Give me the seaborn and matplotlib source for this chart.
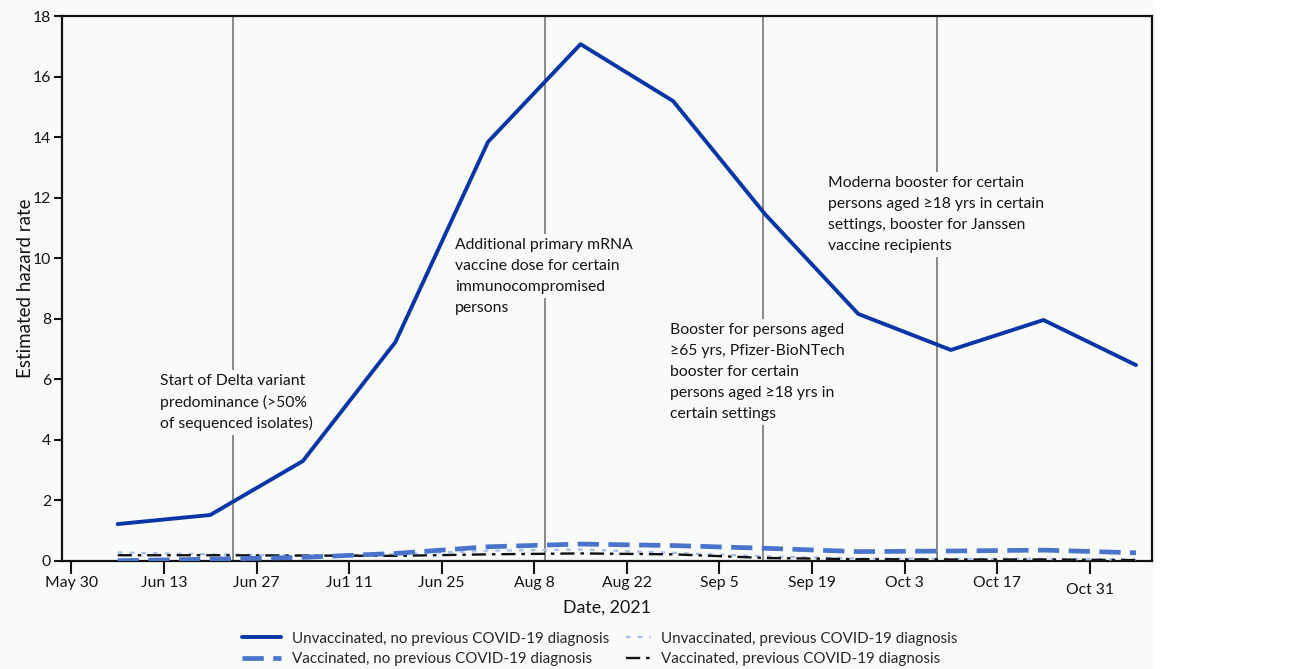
import matplotlib
matplotlib.use("Agg")
from matplotlib import pyplot as plt
from matplotlib.patches import Rectangle
from matplotlib.lines import Line2D
from matplotlib.transforms import ScaledTranslation
import seaborn as sns
import pandas as pd

# valores (cada 14 dias desde el 6 de junio)
fechas = pd.date_range("2021-06-06", periods=12, freq="14D")
no_vac_sin_previo = [1.22, 1.52, 3.30, 7.23, 13.84, 17.07, 15.19, 11.43, 8.16, 6.97, 7.96, 6.47]
vac_sin_previo = [0.01, 0.06, 0.12, 0.25, 0.47, 0.56, 0.51, 0.42, 0.31, 0.33, 0.36, 0.27]
no_vac_previo = [0.28, 0.22, 0.18, 0.22, 0.34, 0.38, 0.27, 0.15, 0.08, 0.07, 0.07, 0.05]
vac_previo = [0.19, 0.19, 0.18, 0.17, 0.22, 0.25, 0.22, 0.10, 0.06, 0.05, 0.05, 0.03]

etiquetas_series = [
    "Unvaccinated, no previous COVID-19 diagnosis",
    "Vaccinated, no previous COVID-19 diagnosis",
    "Unvaccinated, previous COVID-19 diagnosis",
    "Vaccinated, previous COVID-19 diagnosis",
]

fechas_ticks = pd.date_range("2021-05-30", periods=12, freq="14D")
etiquetas_ticks = ["May 30", "Jun 13", "Jun 27", "Ju1 11", "Jun 25", "Aug 8", "Aug 22",
                   "Sep 5", "Sep 19", "Oct 3", "Oct 17", "Oct 31"]

eventos = ["2021-06-23 10:00", "2021-08-09 14:00", "2021-09-11 14:00", "2021-10-07 22:00"]
notas = [
    ("2021-06-12 10:00", 5.94, ["Start of Delta variant", "predominance (>50%", "of sequenced isolates)"]),
    ("2021-07-27 00:00", 10.44, ["Additional primary mRNA", "vaccine dose for certain",
                                 "immunocompromised", "persons"]),
    ("2021-08-28 12:00", 7.63, ["Booster for persons aged", "\u226565 yrs, Pfizer-BioNTech",
                                "booster for certain", "persons aged \u226518 yrs in", "certain settings"]),
    ("2021-09-21 10:00", 12.48, ["Moderna booster for certain", "persons aged \u226518 yrs in certain",
                                 "settings, booster for Janssen", "vaccine recipients"]),
]

fondo = "#f9fbf9"
texto = "#141414"
sns.set_style("ticks")
plt.rcParams["font.family"] = ["Lato", "DejaVu Sans"]
plt.rcParams["font.size"] = 11

fig = plt.figure(figsize=(13.08, 6.69), dpi=100, facecolor="white")
fig.patches.append(Rectangle((0, 0), 1155 / 1308, 1, transform=fig.transFigure,
                             facecolor=fondo, edgecolor="none", zorder=-10))
ax = fig.add_axes([62 / 1308, 108 / 669, 1090 / 1308, 545 / 669])
ax.set_facecolor(fondo)

for f in eventos:
    ax.axvline(pd.Timestamp(f), color="#7f7f7f", lw=1.3, zorder=1)

estilos = [
    dict(color="#0a35a6", lw=2.8),
    dict(color="#4a74cc", lw=3.4, dashes=(4.5, 2)),
    dict(color="#a9c0ee", lw=1.7, dashes=(2, 3)),
    dict(color="#111111", lw=1.7, dashes=(6, 2.5, 1.5, 2.5)),
]
series = [no_vac_sin_previo, vac_sin_previo, no_vac_previo, vac_previo]
for valores, est, z in zip(series, estilos, [5, 4, 3, 3]):
    sns.lineplot(x=fechas, y=valores, ax=ax, zorder=z, **est)

for x, y, lineas in notas:
    for i, linea in enumerate(lineas):
        ax.annotate(linea, xy=(pd.Timestamp(x), y), xytext=(0, -15.1 * i), textcoords="offset points",
                    ha="left", va="center", fontsize=11.3, color=texto, zorder=6,
                    bbox=dict(facecolor=fondo, edgecolor="none", pad=3.0))

ax.set_xlim(pd.Timestamp("2021-05-28 14:00"), pd.Timestamp("2021-11-09 10:00"))
ax.set_ylim(0, 18)
ax.set_yticks(range(0, 19, 2))
ax.set_xticks(fechas_ticks)
ax.set_xticklabels(etiquetas_ticks)
ax.tick_params(axis="x", length=9, width=1.5, pad=1.5, labelsize=11.3, colors=texto)
ax.tick_params(axis="y", length=6, width=1.5, pad=2, labelsize=11.3, colors=texto)
ultima = ax.get_xticklabels()[-1]
ultima.set_transform(ultima.get_transform() + ScaledTranslation(0, -5 / 72, fig.dpi_scale_trans))
for s in ax.spines.values():
    s.set_visible(True)
    s.set_linewidth(1.6)
    s.set_color("#111111")
ax.set_xlabel("Date, 2021", fontsize=12.8, labelpad=2, color=texto)
ax.set_ylabel("Estimated hazard rate", fontsize=13.5, labelpad=-1, color=texto)

manijas = [Line2D([], [], **est) for est in estilos]
comun = dict(frameon=False, loc="upper left", fontsize=10.9, handletextpad=0.7, labelspacing=0.45)
fig.legend(manijas[:2], etiquetas_series[:2], bbox_to_anchor=(228 / 1308, 1 - 618 / 669),
           handlelength=2.6, **comun)
fig.legend(manijas[2:], etiquetas_series[2:], bbox_to_anchor=(612 / 1308, 1 - 618 / 669),
           handlelength=1.65, **comun)

fig.savefig("out.png", dpi=100, facecolor=fig.get_facecolor())
